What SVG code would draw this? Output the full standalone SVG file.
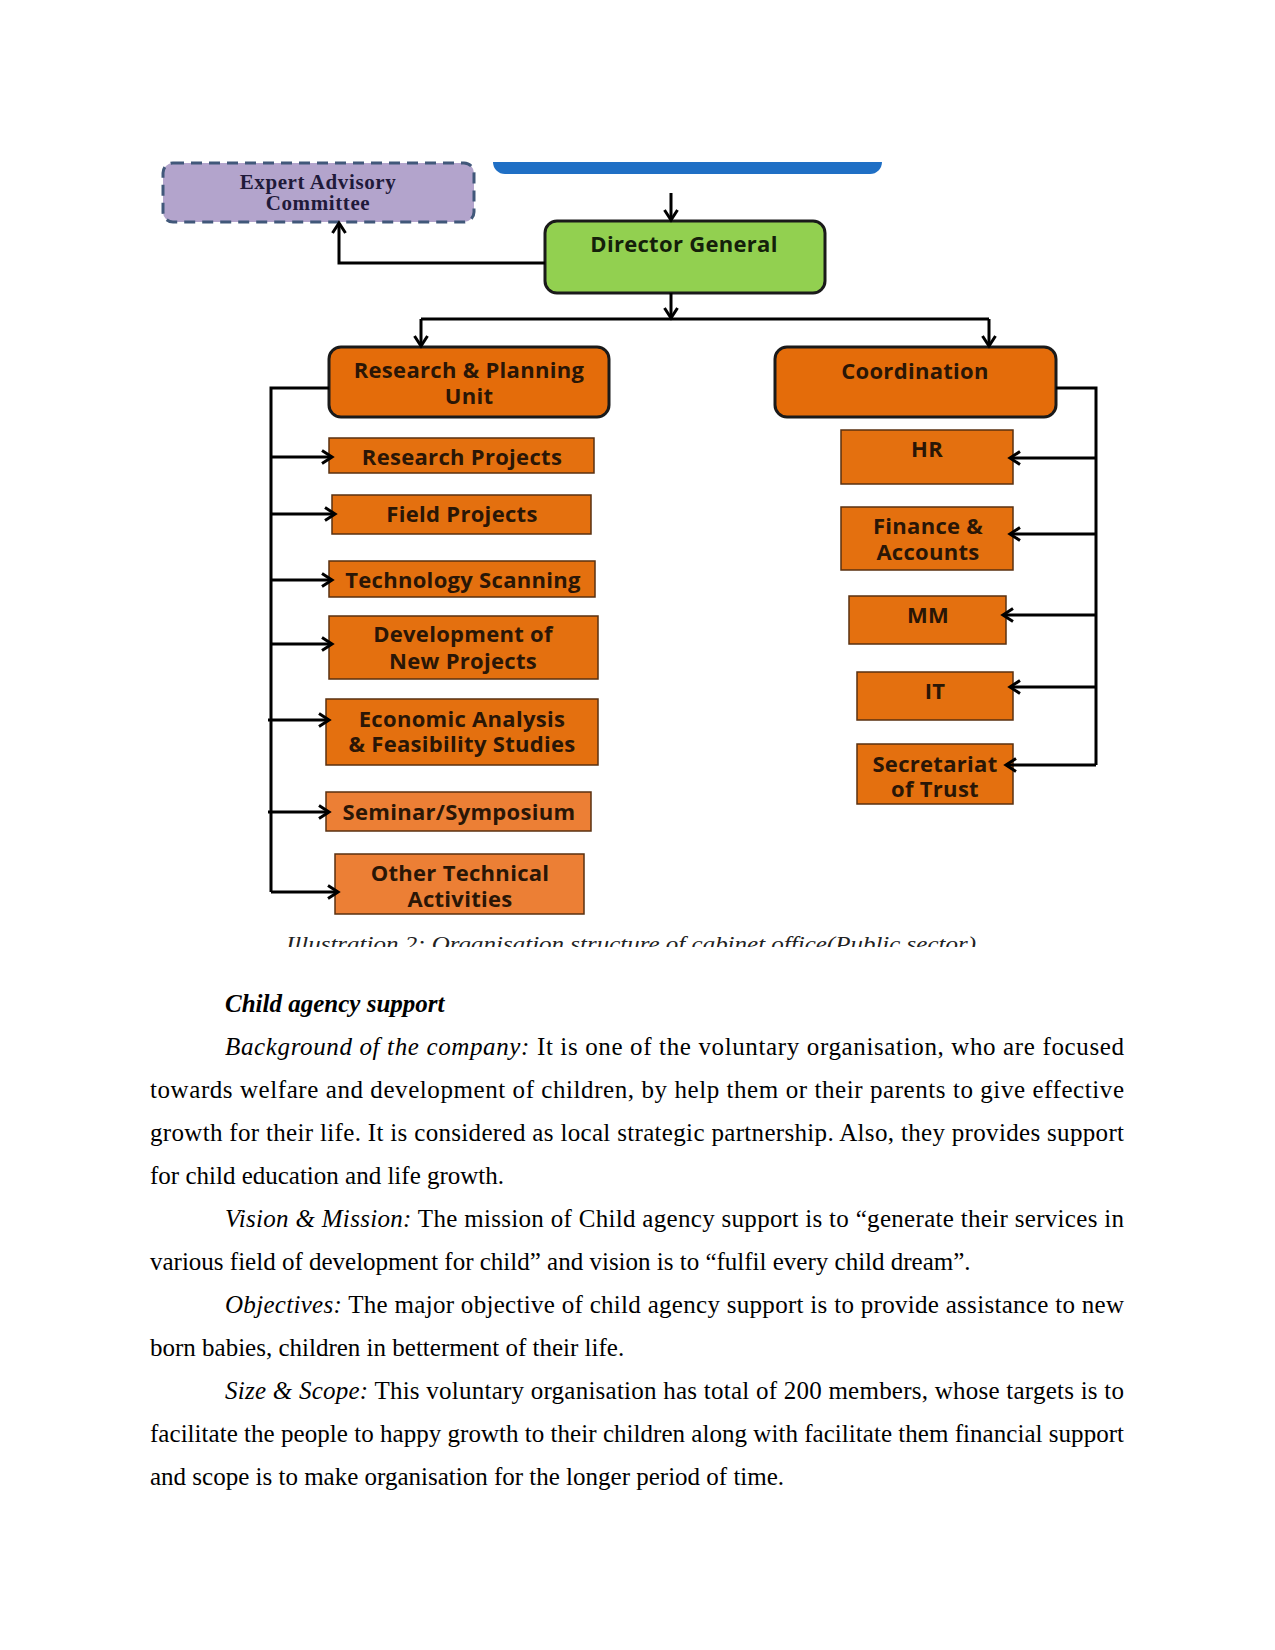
<svg xmlns="http://www.w3.org/2000/svg" width="1275" height="1650" viewBox="0 0 1275 1650">
<defs>
<style>
.lbl{font-family:"Open Sans","DejaVu Sans",sans-serif;font-weight:700;font-size:22px;letter-spacing:0.3px;fill:#2a1606;text-anchor:middle}
.main{fill:#E46C0A;stroke:#1a1a1a;stroke-width:3}
.sub{fill:#E4700F;stroke:#5a3010;stroke-width:1.5}
.sub2{fill:#EC7F35;stroke:#5a3010;stroke-width:1.5}
.con{fill:none;stroke:#000;stroke-width:3}
.body{font-family:"Liberation Serif","Times New Roman",serif;font-size:25px;fill:#000}
.it{font-style:italic}
.exp{font-family:"Liberation Serif","Times New Roman",serif;font-weight:700;font-size:21px;letter-spacing:0.6px;fill:#1f1a3a;text-anchor:middle}
</style>
<marker id="arr" viewBox="0 0 16 16" refX="13" refY="8" markerWidth="16" markerHeight="16" markerUnits="userSpaceOnUse" orient="auto">
<path d="M3,1.5 L13,8 L3,14.5" fill="none" stroke="#000" stroke-width="3"/>
</marker>
<clipPath id="topclip"><rect x="0" y="162" width="1275" height="100"/></clipPath>
<clipPath id="capclip"><rect x="0" y="900" width="1275" height="47"/></clipPath>
</defs>
<rect width="1275" height="1650" fill="#fff"/>

<g id="top-bar" clip-path="url(#topclip)">
<rect x="493" y="130" width="389" height="44" rx="12" fill="#1F6FC5"/>
</g>

<g id="expert-advisory">
<rect x="163" y="163" width="311" height="59" rx="10" fill="#B3A4CC" stroke="#41587a" stroke-width="3" stroke-dasharray="11 7"/>
<text class="exp" x="318" y="189">Expert Advisory</text>
<text class="exp" x="318" y="210">Committee</text>
</g>

<g id="director-general">
<rect x="545" y="221" width="280" height="72" rx="12" fill="#92D050" stroke="#1a1a1a" stroke-width="3"/>
<text class="lbl" x="684" y="252" style="fill:#14200a">Director General</text>
</g>

<g id="research-planning">
<rect class="main" x="329" y="347" width="280" height="70" rx="12"/>
<text class="lbl" x="469" y="378">Research &amp; Planning</text>
<text class="lbl" x="469" y="404">Unit</text>
</g>

<g id="coordination">
<rect class="main" x="775" y="347" width="281" height="70" rx="12"/>
<text class="lbl" x="915" y="379">Coordination</text>
</g>

<g id="research-projects">
<rect class="sub" x="329" y="438" width="265" height="35"/>
<text class="lbl" x="462" y="465">Research Projects</text>
</g>
<g id="field-projects">
<rect class="sub" x="332" y="495" width="259" height="39"/>
<text class="lbl" x="462" y="522">Field Projects</text>
</g>
<g id="technology-scanning">
<rect class="sub" x="329" y="561" width="266" height="36"/>
<text class="lbl" x="463" y="588">Technology Scanning</text>
</g>
<g id="development-new-projects">
<rect class="sub" x="329" y="616" width="269" height="63"/>
<text class="lbl" x="463" y="642">Development of</text>
<text class="lbl" x="463" y="669">New Projects</text>
</g>
<g id="economic-analysis">
<rect class="sub" x="326" y="699" width="272" height="66"/>
<text class="lbl" x="462" y="727">Economic Analysis</text>
<text class="lbl" x="462" y="752">&amp; Feasibility Studies</text>
</g>
<g id="seminar-symposium">
<rect class="sub2" x="326" y="792" width="265" height="39"/>
<text class="lbl" x="459" y="820">Seminar/Symposium</text>
</g>
<g id="other-technical">
<rect class="sub2" x="335" y="854" width="249" height="60"/>
<text class="lbl" x="460" y="881">Other Technical</text>
<text class="lbl" x="460" y="907">Activities</text>
</g>

<g id="hr">
<rect class="sub" x="841" y="430" width="172" height="54"/>
<text class="lbl" x="927" y="457">HR</text>
</g>
<g id="finance-accounts">
<rect class="sub" x="841" y="507" width="172" height="63"/>
<text class="lbl" x="928" y="534">Finance &amp;</text>
<text class="lbl" x="928" y="560">Accounts</text>
</g>
<g id="mm">
<rect class="sub" x="849" y="596" width="157" height="48"/>
<text class="lbl" x="928" y="623">MM</text>
</g>
<g id="it">
<rect class="sub" x="857" y="672" width="156" height="48"/>
<text class="lbl" x="935" y="699">IT</text>
</g>
<g id="secretariat-trust">
<rect class="sub" x="857" y="744" width="156" height="60"/>
<text class="lbl" x="935" y="772">Secretariat</text>
<text class="lbl" x="935" y="797">of Trust</text>
</g>

<g id="connectors">
<path class="con" d="M671,193 V220" marker-end="url(#arr)"/>
<path class="con" d="M545,263 H339 V223" marker-end="url(#arr)"/>
<path class="con" d="M671,293 V318" marker-end="url(#arr)"/>
<path class="con" d="M421,319 H989"/>
<path class="con" d="M421,319 V346" marker-end="url(#arr)"/>
<path class="con" d="M989,319 V346" marker-end="url(#arr)"/>
<path class="con" d="M329,388 H271 V892"/>
<path class="con" d="M271,457 H332" marker-end="url(#arr)"/>
<path class="con" d="M271,514 H335" marker-end="url(#arr)"/>
<path class="con" d="M271,580 H332" marker-end="url(#arr)"/>
<path class="con" d="M271,644 H332" marker-end="url(#arr)"/>
<path class="con" d="M268,720 H329" marker-end="url(#arr)"/>
<path class="con" d="M268,812 H329" marker-end="url(#arr)"/>
<path class="con" d="M271,892 H338" marker-end="url(#arr)"/>
<path class="con" d="M1056,388 H1096 V765"/>
<path class="con" d="M1096,458 H1010" marker-end="url(#arr)"/>
<path class="con" d="M1096,534 H1010" marker-end="url(#arr)"/>
<path class="con" d="M1096,615 H1003" marker-end="url(#arr)"/>
<path class="con" d="M1096,687 H1010" marker-end="url(#arr)"/>
<path class="con" d="M1096,765 H1006" marker-end="url(#arr)"/>
</g>

<g id="caption" clip-path="url(#capclip)">
<text x="286" y="951" font-family="Liberation Serif,serif" font-style="italic" font-size="22" fill="#222" textLength="690" lengthAdjust="spacingAndGlyphs">Illustration 2: Organisation structure of cabinet office(Public sector)</text>
</g>

<g id="body-text" class="body">
<text x="225" y="1012" font-weight="700" font-style="italic">Child agency support</text>
<text x="225" y="1055" textLength="899" lengthAdjust="spacing"><tspan class="it">Background of the company:</tspan> It is one of the voluntary organisation, who are focused</text>
<text x="150" y="1098" textLength="974" lengthAdjust="spacing">towards welfare and development of children, by help them or their parents to give effective</text>
<text x="150" y="1141" textLength="974" lengthAdjust="spacing">growth for their life. It is considered as local strategic partnership. Also, they provides support</text>
<text x="150" y="1184">for child education and life growth.</text>
<text x="225" y="1227" textLength="899" lengthAdjust="spacing"><tspan class="it">Vision &amp; Mission:</tspan> The mission of Child agency support is to “generate their services in</text>
<text x="150" y="1270">various field of development for child” and vision is to “fulfil every child dream”.</text>
<text x="225" y="1313" textLength="899" lengthAdjust="spacing"><tspan class="it">Objectives:</tspan> The major objective of child agency support is to provide assistance to new</text>
<text x="150" y="1356">born babies, children in betterment of their life.</text>
<text x="225" y="1399" textLength="899" lengthAdjust="spacing"><tspan class="it">Size &amp; Scope:</tspan> This voluntary organisation has total of 200 members, whose targets is to</text>
<text x="150" y="1442" textLength="974" lengthAdjust="spacing">facilitate the people to happy growth to their children along with facilitate them financial support</text>
<text x="150" y="1485">and scope is to make organisation for the longer period of time.</text>
</g>
</svg>
